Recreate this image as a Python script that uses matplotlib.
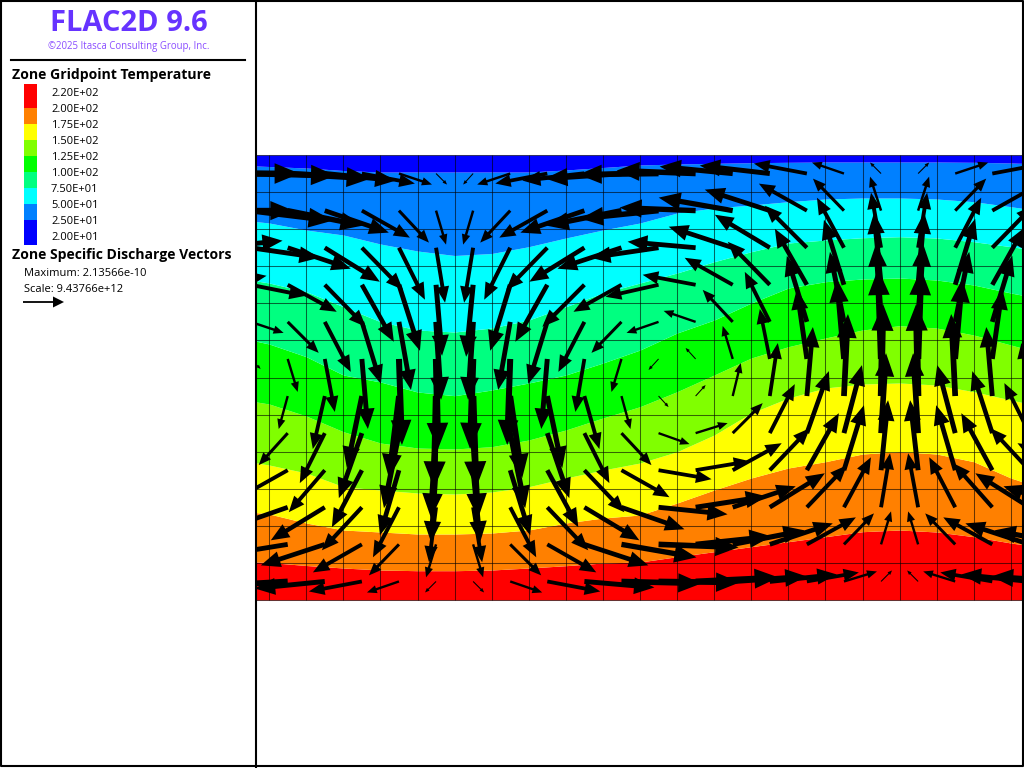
import numpy as np
import matplotlib
matplotlib.use('Agg')
import matplotlib.pyplot as plt

# zone size of the 24 x 12 mesh, model units are the same size as a screen pixel
zone = 445.0 / 12
n_cols = 24
n_rows = 12

# temperature contours: height of each level at every vertical mesh line (0..24)
level_25 = [437, 435, 433.5, 432, 429.5, 428, 428, 428, 428, 428, 430, 432.5, 435, 436, 436.7, 437.3, 437.7, 438, 438, 438, 438, 437.7, 437, 436, 435]
level_50 = [386, 381, 377, 370, 365, 356, 349, 344.5, 346.5, 353.3, 362, 370, 377, 387, 392, 395, 398.3, 401, 402, 402, 401, 398.3, 393.3, 388, 383]
level_75 = [328, 323, 317, 308.3, 293.3, 278.3, 270, 268, 272, 280, 293.3, 307, 317, 327, 338.3, 348.3, 357, 360, 362.3, 363.3, 362, 358.3, 353.3, 348, 342]
level_100 = [270, 264, 256, 243.3, 225, 218, 208, 204.3, 210, 217, 225, 237, 250, 267, 280, 297, 312, 318.3, 321, 322, 320, 315, 307, 300, 292]
level_125 = [208, 202, 196, 184, 168.3, 157, 152, 151, 153.3, 160, 170, 182, 193.3, 208.3, 225, 242, 253.3, 262, 270, 274.3, 272, 265, 255, 245, 235]
level_150 = [145, 141, 135, 127, 113.3, 110, 107, 106, 108, 113.3, 122, 130, 137, 148.3, 165, 187, 202, 212, 216, 217, 215, 208.3, 200, 192, 184]
level_175 = [92, 90, 86, 77, 70, 68, 66, 66, 67, 70, 77, 82, 85, 97, 110, 122, 132, 138.3, 146, 148.3, 146, 138.3, 122, 110, 100]
level_200 = [40, 39, 37.5, 34.5, 32, 30, 29.3, 29.3, 30, 32, 34.3, 37, 38, 43.3, 48.3, 53.3, 58.3, 63.3, 68.3, 70, 68, 63.3, 57, 52, 48]

# discharge vectors per zone, top row first, already multiplied by the plot scale
qx_rows = [
    [86, 85, 83, 71, 53, 33, 11, -10, -33, -52, -62, -76, -80, -79, -73, -70, -53, -32, -11, 11, 33, 53, 70, 75],
    [80, 82, 75, 64, 48, 30, 10, -10, -30, -48, -64, -75, -78, -76, -74, -65, -48, -31, -11, 11, 31, 48, 65, 74],
    [69, 69, 63, 55, 41, 26, 9, -9, -26, -41, -55, -64, -68, -68, -64, -55, -42, -27, -10, 9, 26, 41, 55, 64],
    [53, 55, 49, 41, 32, 21, 6, -7, -20, -32, -42, -48, -53, -53, -48, -42, -32, -20, -7, 6, 20, 32, 42, 48],
    [33, 33, 31, 26, 19, 12, 5, -5, -12, -19, -26, -30, -32, -32, -30, -25, -20, -14, -5, 5, 14, 20, 25, 31],
    [10, 10, 10, 10, 6, 3, 2, -3, -3, -6, -9, -10, -10, -10, -10, -10, -10, -7, -3, 3, 7, 10, 10, 10],
    [-10, -10, -9, -12, -15, -10, -2, 3, 12, 15, 15, 9, 10, 10, 8, 8, 6, 4, 2, -2, -4, -6, -8, -8],
    [-32, -32, -29, -25, -23, -15, -5, 5, 15, 22, 25, 30, 31, 32, 30, 25, 22, 18, 5, -5, -18, -20, -25, -30],
    [-53, -53, -48, -36, -30, -19, -5, 7, 20, 31, 40, 48, 53, 54, 49, 40, 32, 20, 7, -8, -19, -31, -39, -49],
    [-68, -68, -63, -54, -40, -26, -7, 9, 26, 41, 55, 63, 69, 71, 63, 55, 40, 27, 9, -10, -26, -39, -54, -63],
    [-70, -72, -68, -64, -49, -30, -10, 10, 31, 49, 64, 75, 80, 76, 72, 63, 49, 30, 10, -10, -30, -49, -64, -72],
    [-85, -85, -83, -70, -53, -32, -11, 11, 32, 53, 70, 80, 81, 83, 74, 67, 52, 33, 11, -11, -32, -52, -68, -75],
]
qy_rows = [
    [0, -2, -5, -7, -10, -11, -11, -11, -11, -10, -7, -5, -1, 3, 7, 8, 10, 11, 11, 11, 11, 10, 7, 5],
    [0, -10, -15, -22, -27, -32, -34, -34, -32, -27, -22, -15, -8, 3, 13, 21, 27, 32, 34, 34, 32, 27, 21, 13],
    [7, -10, -21, -34, -42, -52, -55, -55, -52, -42, -34, -21, -10, 6, 21, 33, 42, 50, 55, 55, 50, 42, 33, 21],
    [9, -11, -27, -42, -57, -66, -71, -72, -66, -57, -42, -27, -12, 10, 27, 43, 56, 65, 72, 72, 66, 57, 42, 27],
    [11, -11, -31, -50, -62, -68, -78, -78, -68, -62, -50, -31, -11, 11, 32, 50, 66, 70, 78, 78, 70, 66, 50, 31],
    [11, -10, -33, -53, -70, -86, -90, -90, -86, -70, -53, -33, -11, 11, 33, 50, 70, 80, 90, 90, 80, 70, 50, 33],
    [11, -11, -33, -53, -72, -82, -92, -92, -82, -72, -53, -33, -11, 11, 33, 53, 69, 82, 92, 92, 82, 69, 53, 33],
    [10, -11, -32, -50, -65, -75, -85, -85, -75, -65, -50, -32, -11, 10, 30, 49, 62, 68, 80, 80, 68, 62, 50, 31],
    [9, -12, -27, -42, -57, -65, -72, -72, -65, -57, -42, -27, -9, 9, 27, 42, 57, 65, 70, 70, 65, 57, 42, 27],
    [8, -10, -22, -33, -43, -50, -55, -55, -50, -43, -33, -22, -7, 11, 21, 34, 42, 50, 54, 54, 50, 44, 34, 21],
    [2, -4, -11, -21, -28, -31, -33, -33, -31, -28, -21, -13, -3, 8, 14, 21, 27, 31, 33, 33, 31, 27, 21, 14],
    [0, -2, -5, -7, -10, -11, -11, -11, -11, -10, -6, -2, -1, 4, 5, 7, 9, 10, 11, 11, 10, 9, 7, 5],
]

legend_labels = ['2.20E+02', '2.00E+02', '1.75E+02', '1.50E+02', '1.25E+02', '1.00E+02',
                 '7.50E+01', '5.00E+01', '2.50E+01', '2.00E+01']
legend_colors = ['#ff0000', '#ff8000', '#ffff00', '#80ff00', '#00ff00', '#00ff80',
                 '#00ffff', '#0080ff', '#0000ff']

plt.rcParams['font.family'] = ['Open Sans', 'DejaVu Sans']

fig = plt.figure(figsize=(10.24, 7.68), dpi=100)

###############################################################################
# model view, one model unit is one pixel
ax = fig.add_axes([256 / 1024, 0, 768 / 1024, 1])
ax.set_xlim(61, 829)
ax.set_ylim(-168, 600)
ax.axis('off')

x_lines = np.arange(n_cols + 1) * zone
y_lines = np.arange(n_rows + 1) * zone
top = np.full(n_cols + 1, n_rows * zone)

levels = [level_200, level_175, level_150, level_125, level_100, level_75, level_50, level_25]
lower = np.zeros(n_cols + 1)
for i, level in enumerate(levels):
    ax.fill_between(x_lines, lower, level, color=legend_colors[i], lw=0)
    lower = np.array(level)
ax.fill_between(x_lines, lower, top, color=legend_colors[8], lw=0)

ax.vlines(x_lines, 0, n_rows * zone, color='black', lw=0.75, alpha=0.6)
ax.hlines(y_lines, 0, n_cols * zone, color='black', lw=0.75, alpha=0.6)

for r in range(n_rows):
    for c in range(n_cols):
        u = qx_rows[r][c]
        v = qy_rows[r][c]
        length = np.hypot(u, v)
        ax.arrow((c + 0.5) * zone, (n_rows - r - 0.5) * zone, u, v,
                 width=0.07 * length, head_width=0.24 * length, head_length=0.29 * length,
                 length_includes_head=True, fc='black', ec='none')

###############################################################################
# legend panel, drawn in screen pixels
leg = fig.add_axes([0, 0, 1, 1])
leg.set_xlim(0, 1024)
leg.set_ylim(768, 0)
leg.axis('off')
leg.patch.set_alpha(0)

leg.plot([1, 1023, 1023, 1, 1], [1, 1, 766, 766, 1], color='black', lw=1.5)
leg.plot([255.5, 255.5], [0, 768], color='black', lw=1.5)
leg.plot([11, 245], [60, 60], color='black', lw=1.5)

leg.text(129, 23.5, 'FLAC2D 9.6', color='#6633ff', fontsize=21, fontweight='bold',
         ha='center', va='center')
leg.text(129, 46, '\u00a92025 Itasca Consulting Group, Inc.', color='#8a4dff', fontsize=6.9,
         ha='center', va='center')

leg.text(12, 75.5, 'Zone Gridpoint Temperature', fontsize=10.1, fontweight='bold', va='center')
leg.text(12, 255.5, 'Zone Specific Discharge Vectors', fontsize=10.1, fontweight='bold', va='center')

swatch_edges = [84, 108, 124, 140, 156, 172, 188, 204, 220, 245]
for i in range(len(legend_colors)):
    leg.fill_between([24, 37], swatch_edges[i], swatch_edges[i + 1], color=legend_colors[i], lw=0)
for i, label in enumerate(legend_labels):
    leg.text(51, 93.5 + 16 * i, label, fontsize=8, va='center')

leg.text(24, 273.5, 'Maximum: 2.13566e-10', fontsize=8, va='center')
leg.text(24, 289.5, 'Scale: 9.43766e+12', fontsize=8, va='center')
leg.arrow(23, 302, 41, 0, width=1.8, head_width=11, head_length=11,
          length_includes_head=True, fc='black', ec='none')

fig.savefig('out.png', dpi=100)
